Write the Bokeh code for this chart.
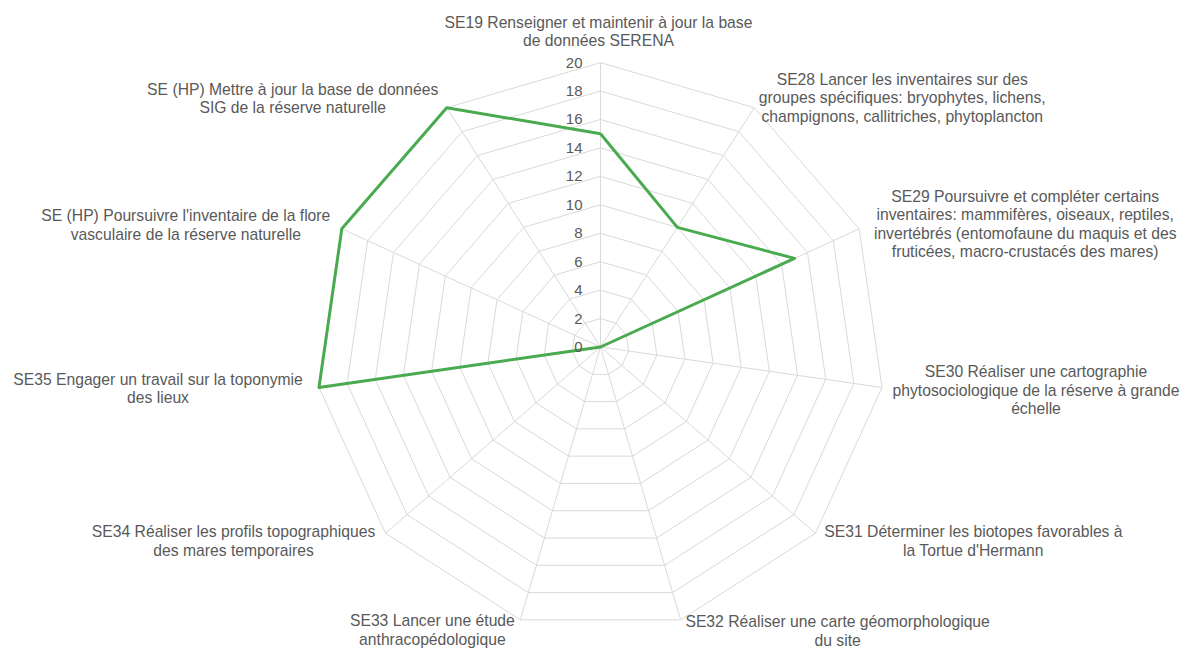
import numpy as np
from bokeh.plotting import figure
from bokeh.models import Range1d, ColumnDataSource
from bokeh.embed import file_html
from bokeh.resources import INLINE
from bokeh.core.properties import value

# ---------------- data ----------------
categories = [
    "SE19 Renseigner et maintenir à jour la base\nde données SERENA",
    "SE28 Lancer les inventaires sur des\ngroupes spécifiques: bryophytes, lichens,\nchampignons, callitriches, phytoplancton",
    "SE29 Poursuivre et compléter certains\ninventaires: mammifères, oiseaux, reptiles,\ninvertébrés (entomofaune du maquis et des\nfruticées, macro-crustacés des mares)",
    "SE30 Réaliser une cartographie\nphytosociologique de la réserve à grande\néchelle",
    "SE31 Déterminer les biotopes favorables à\nla Tortue d'Hermann",
    "SE32 Réaliser une carte géomorphologique\ndu site",
    "SE33 Lancer une étude\nanthracopédologique",
    "SE34 Réaliser les profils topographiques\ndes mares temporaires",
    "SE35 Engager un travail sur la toponymie\ndes lieux",
    "SE (HP) Poursuivre l'inventaire de la flore\nvasculaire de la réserve naturelle",
    "SE (HP) Mettre à jour la base de données\nSIG de la réserve naturelle",
]
scores = [15, 10, 15, 0, 0, 0, 0, 0, 20, 20, 20]
ticks = [0, 2, 4, 6, 8, 10, 12, 14, 16, 18, 20]
tick_labels = ["0", "2", "4", "6", "8", "10", "12", "14", "16", "18", "20"]

# ---------------- layout (screen-pixel offsets of the category labels) ----------------
label_dx = [-2, 148, 166, 154, 158, 157, -88, -152, -161, -156, -154]
label_dy = [-31, -10, -5, 3, 8, 11, 10, 8, 1, -4, -9]

FONT = "Arial"
TXT = "#595959"
GRID = "#d9d9d9"
GREEN = "#4aaa4f"

W, H = 1190, 648
rmax = max(ticks)
scale = 284.4 / rmax          # pixels per unit
cx, cy = 600.0, 346.5         # centre in canvas pixels

n = len(categories)
ang = np.pi / 2 - 2 * np.pi * np.arange(n) / n
cos, sin = np.cos(ang), np.sin(ang)

p = figure(width=W, height=H,
           x_range=Range1d(-cx / scale, (W - cx) / scale),
           y_range=Range1d(-(H - cy) / scale, cy / scale),
           output_backend="svg", toolbar_location=None,
           x_axis_location=None, y_axis_location=None,
           min_border=0)
p.grid.visible = False
p.outline_line_color = None
p.background_fill_color = "white"
p.border_fill_color = "white"

# concentric grid polygons
gx, gy = [], []
for t in ticks[1:]:
    gx.append(list(np.append(t * cos, t * cos[0])))
    gy.append(list(np.append(t * sin, t * sin[0])))
p.multi_line(gx, gy, line_color=GRID, line_width=1)

# spokes
p.segment(x0=np.zeros(n), y0=np.zeros(n), x1=rmax * cos, y1=rmax * sin,
          line_color=GRID, line_width=1)

# series
sc = np.array(scores, dtype=float)
sx = np.append(sc * cos, sc[0] * cos[0])
sy = np.append(sc * sin, sc[0] * sin[0])
p.line(sx, sy, line_color=GREEN, line_width=3, line_join="round")

# tick labels
tsrc = ColumnDataSource(dict(x=[0.0] * len(ticks), y=[float(t) for t in ticks], text=tick_labels))
p.text(x="x", y="y", text="text", source=tsrc, x_offset=-18,
       text_align="right", text_baseline="middle",
       text_font=value(FONT), text_font_size="15px", text_color=TXT)

# category labels
csrc = ColumnDataSource(dict(x=rmax * cos, y=rmax * sin, text=categories,
                             dx=label_dx, dy=label_dy))
p.text(x="x", y="y", text="text", source=csrc, x_offset="dx", y_offset="dy",
       text_align="center", text_baseline="middle", text_line_height=1.09,
       text_font=value(FONT), text_font_size="15.7px", text_color=TXT)

open("out.html", "w").write(file_html(p, INLINE))
